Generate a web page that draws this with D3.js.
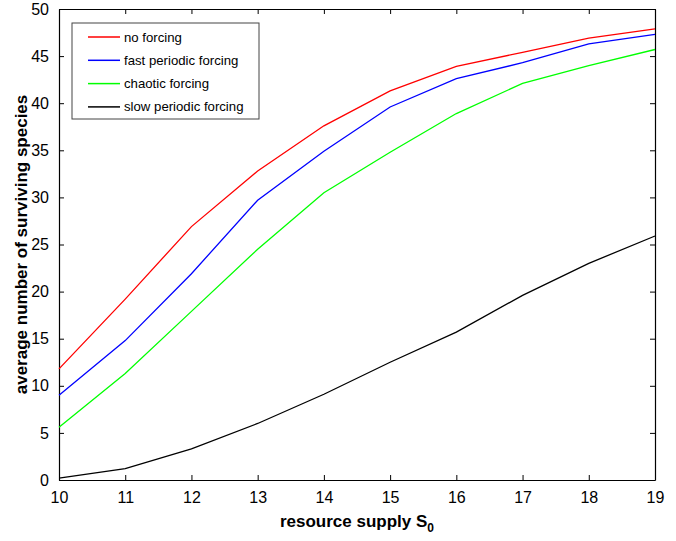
<!DOCTYPE html>
<html>
<head>
<meta charset="utf-8">
<script src="https://cdn.jsdelivr.net/npm/d3@7"></script>
<style>
  body { margin: 0; background: #fff; }
  svg { display: block; }
</style>
</head>
<body>
<div id="chart"></div>
<script>
// Surviving species vs resource supply

const supply = [10, 11, 12, 13, 14, 15, 16, 17, 18, 19];
const noForcing = [11.8, 19.2, 26.9, 32.8, 37.6, 41.3, 43.9, 45.4, 46.9, 47.9];
const fastPeriodic = [9.0, 14.8, 21.9, 29.7, 34.9, 39.6, 42.6, 44.3, 46.3, 47.3];
const chaotic = [5.6, 11.3, 17.9, 24.5, 30.5, 34.8, 38.9, 42.1, 44.0, 45.7];
const slowPeriodic = [0.2, 1.2, 3.3, 6.0, 9.1, 12.5, 15.7, 19.6, 23.0, 25.9];

const seriesNames = ["no forcing", "fast periodic forcing", "chaotic forcing", "slow periodic forcing"];
const seriesColors = ["#ff0000", "#0000ff", "#00ff00", "#000000"];
const yTicks = [0, 5, 10, 15, 20, 25, 30, 35, 40, 45, 50];

const width = 676;
const height = 541;
const margin = { top: 9, right: 21, bottom: 61, left: 59 };
const font = "Liberation Sans, Arial, Helvetica, sans-serif";

const svg = d3.select("#chart").append("svg")
    .attr("width", width)
    .attr("height", height);

const x = d3.scaleLinear()
    .domain([10, 19])
    .range([margin.left, width - margin.right]);

const y = d3.scaleLinear()
    .domain([0, 50])
    .range([height - margin.bottom, margin.top]);

// axes, ticks pointing inward
const tickLen = 5;
const bottomAxis = svg.append("g")
    .attr("transform", `translate(0,${y(0)})`)
    .call(d3.axisBottom(x).tickValues(supply).tickSizeInner(-tickLen).tickSizeOuter(0).tickPadding(12));
const topAxis = svg.append("g")
    .attr("transform", `translate(0,${y(50)})`)
    .call(d3.axisTop(x).tickValues(supply).tickSizeInner(-tickLen).tickSizeOuter(0).tickFormat(""));
const leftAxis = svg.append("g")
    .attr("transform", `translate(${x(10)},0)`)
    .call(d3.axisLeft(y).tickValues(yTicks).tickSizeInner(-tickLen).tickSizeOuter(0).tickPadding(10));
const rightAxis = svg.append("g")
    .attr("transform", `translate(${x(19)},0)`)
    .call(d3.axisRight(y).tickValues(yTicks).tickSizeInner(-tickLen).tickSizeOuter(0).tickFormat(""));

[bottomAxis, topAxis, leftAxis, rightAxis].forEach(a => {
    a.select(".domain").attr("stroke", "#000").attr("stroke-width", 1.2);
    a.selectAll(".tick line").attr("stroke", "#000").attr("stroke-width", 1);
    a.selectAll("text")
        .attr("font-family", font)
        .attr("font-size", "16px")
        .attr("fill", "#000");
});

// series lines
const allSeries = [noForcing, fastPeriodic, chaotic, slowPeriodic];
const line = d3.line()
    .x((d, i) => x(supply[i]))
    .y(d => y(d));

allSeries.forEach((vals, i) => {
    svg.append("path")
        .datum(vals)
        .attr("fill", "none")
        .attr("stroke", seriesColors[i])
        .attr("stroke-width", 1.3)
        .attr("d", line);
});

// axis labels
const xLabel = svg.append("text")
    .attr("x", (x(10) + x(19)) / 2)
    .attr("y", 527)
    .attr("text-anchor", "middle")
    .attr("font-family", font)
    .attr("font-size", "17px")
    .attr("font-weight", "bold")
    .text("resource supply S");
xLabel.append("tspan")
    .attr("dy", 5)
    .attr("font-size", "12px")
    .text("0");

svg.append("text")
    .attr("transform", `translate(27,${(y(0) + y(50)) / 2}) rotate(-90)`)
    .attr("text-anchor", "middle")
    .attr("font-family", font)
    .attr("font-size", "17px")
    .attr("font-weight", "bold")
    .text("average number of surviving species");

// legend
const legend = svg.append("g").attr("transform", "translate(72,23)");
legend.append("rect")
    .attr("width", 187)
    .attr("height", 96)
    .attr("fill", "#fff")
    .attr("stroke", "#444")
    .attr("stroke-width", 1);

seriesNames.forEach((name, i) => {
    const ly = 14 + i * 23.3;
    legend.append("line")
        .attr("x1", 16).attr("x2", 48)
        .attr("y1", ly).attr("y2", ly)
        .attr("stroke", seriesColors[i])
        .attr("stroke-width", 1.5);
    legend.append("text")
        .attr("x", 52)
        .attr("y", ly + 4.5)
        .attr("font-family", font)
        .attr("font-size", "13.2px")
        .attr("fill", "#000")
        .text(name);
});
</script>
</body>
</html>
